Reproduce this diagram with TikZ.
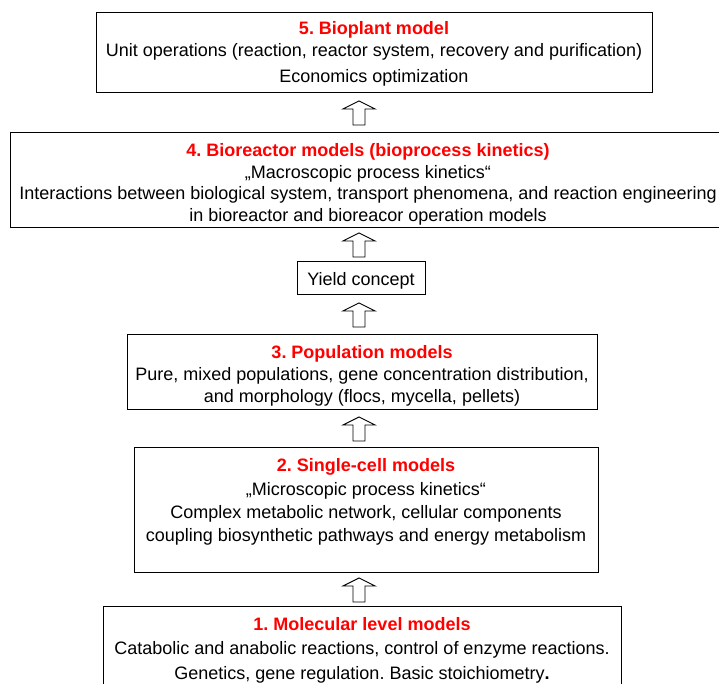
\documentclass[tikz,border=0pt]{standalone}
\usepackage{fontspec}
\setmainfont{Liberation Sans}
\usetikzlibrary{calc, positioning}
\definecolor{titlered}{RGB}{255,0,0}
\frenchspacing

\newcommand{\hollowup}[2]{% lower box, upper box
  \draw[hollow] let \p1=(#1.north), \p2=(#2.south), \n1={(\y1+\y2)/2} in
    (353,\n1-12) -- (353,\n1+4) -- (343,\n1+4) -- (359,\n1+12)
    -- (375,\n1+4) -- (365,\n1+4) -- (365,\n1-12) -- cycle;}

\begin{document}
\begin{tikzpicture}[
    x=1pt, y=1pt,
    box/.style={rectangle, draw, line width=1pt, inner sep=0pt},
    txt/.style={align=center, inner sep=0pt, font=\fontsize{18}{22}\selectfont},
    hollow/.style={draw, line width=0.9pt, fill=white, line join=miter}
]
\clip (0,0) rectangle (719,684);

% Boxes
\node[box, minimum width=556pt, minimum height=80pt] (bioplant) at (374,631) {};
\node[box, minimum width=716pt, minimum height=95pt] (bioreactor) at (368,503.5) {};
\node[box, minimum width=128pt, minimum height=33pt] (yield) at (361,405.5) {};
\node[box, minimum width=470pt, minimum height=75pt] (population) at (362,311.5) {};
\node[box, minimum width=464pt, minimum height=125pt] (singlecell) at (366,173.5) {};
\node[box, minimum width=518pt, minimum height=95pt] (molecular) at (362,29.5) {};

% Texts
\node[txt, below=9pt of bioplant.north] (bioplant-txt) {%
  \textcolor{titlered}{\bfseries 5. Bioplant model}\\
  Unit operations (reaction, reactor system, recovery and purification)\\[4pt]
  Economics optimization};
\node[txt, font=\fontsize{18}{21.5}\selectfont, below=11pt of bioreactor.north] (bioreactor-txt) {%
  \textcolor{titlered}{\bfseries 4. Bioreactor models (bioprocess kinetics)}\\
  „Macroscopic process kinetics“\\
  Interactions between biological system, transport phenomena, and reaction engineering\\
  in bioreactor and bioreacor operation models};
\node[txt, yshift=-2pt] (yield-txt) at (yield) {Yield concept};
\node[txt, below=11pt of population.north] (population-txt) {%
  \textcolor{titlered}{\bfseries 3. Population models}\\
  Pure, mixed populations, gene concentration distribution,\\
  and morphology (flocs, mycella, pellets)};
\node[txt, font=\fontsize{18}{23}\selectfont, below=11pt of singlecell.north] (singlecell-txt) {%
  \textcolor{titlered}{\bfseries 2. Single-cell models}\\[1pt]
  „Microscopic process kinetics“\\
  Complex metabolic network, cellular components\\
  coupling biosynthetic pathways and energy metabolism};
\node[txt, font=\fontsize{18}{24.5}\selectfont, below=10.5pt of molecular.north] (molecular-txt) {%
  \textcolor{titlered}{\bfseries 1. Molecular level models}\\
  Catabolic and anabolic reactions, control of enzyme reactions.\\
  Genetics, gene regulation. Basic stoichiometry\textbf{.}};

% Arrows
\hollowup{bioreactor}{bioplant}
\hollowup{yield}{bioreactor}
\hollowup{population}{yield}
\hollowup{singlecell}{population}
\hollowup{molecular}{singlecell}

\end{tikzpicture}
\end{document}
